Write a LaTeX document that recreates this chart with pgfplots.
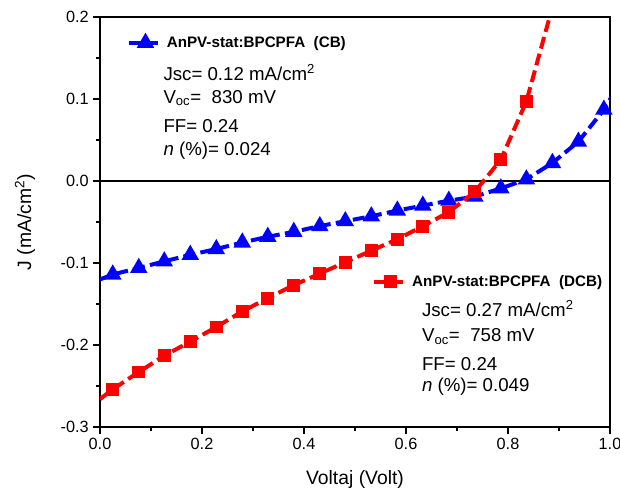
\documentclass[border=0pt]{standalone}
\usepackage{pgfplots}
\pgfplotsset{compat=1.18}
\usepackage{pgfplotstable}
\usepackage{fontspec}
\setmainfont{Liberation Sans}
\definecolor{cbblue}{RGB}{0,0,255}
\definecolor{dcbred}{RGB}{255,0,0}

\pgfplotstableread{
x y
0.000 -0.120
0.025 -0.114
0.076 -0.106
0.126 -0.098
0.177 -0.090
0.228 -0.083
0.279 -0.075
0.329 -0.068
0.380 -0.062
0.431 -0.055
0.481 -0.049
0.532 -0.043
0.583 -0.036
0.633 -0.030
0.684 -0.024
0.735 -0.019
0.786 -0.009
0.836 0.002
0.887 0.022
0.938 0.048
0.988 0.087
1.039 0.140
}\cbdata

\pgfplotstableread{
x y
0.000 -0.266
0.025 -0.254
0.076 -0.233
0.126 -0.213
0.177 -0.196
0.228 -0.178
0.279 -0.159
0.329 -0.143
0.380 -0.127
0.431 -0.113
0.481 -0.099
0.532 -0.085
0.583 -0.071
0.633 -0.055
0.684 -0.038
0.735 -0.013
0.786 0.026
0.836 0.097
0.887 0.212
}\dcbdata

\pgfplotsset{
  common/.style={
    scale only axis,
    width=382.5pt, height=307.5pt,
    xmin=0, xmax=1, ymin=-0.3, ymax=0.2,
    clip=true, clip mode=individual,
  },
  legend image code/.code={
    \draw[#1, mark indices={2}] plot coordinates {(0pt,0pt) (12.5pt,0pt) (25pt,0pt)};
  },
}

\begin{document}
\begin{tikzpicture}
\begin{axis}[
  common,
  axis line style={line width=0.9pt},
  xtick={0,0.2,0.4,0.6,0.8,1.0},
  ytick={-0.3,-0.2,-0.1,0,0.1,0.2},
  minor x tick num=1, minor y tick num=1,
  xtick pos=left, ytick pos=left,
  tick align=outside,
  major tick length=5pt, minor tick length=3pt,
  tick style={line width=0.8pt, black},
  /pgf/number format/.cd, fixed, fixed zerofill, precision=1, assume math mode=true,
  /pgfplots/.cd,
  tick label style={font=\fontsize{12.2}{14}\selectfont},
  xlabel={Voltaj (Volt)},
  ylabel={J (mA/cm\textsuperscript{2})},
  label style={font=\fontsize{14.5}{17}\selectfont},
  xlabel style={at={(axis description cs:0.5,-0.129)}, anchor=center},
  ylabel style={at={(axis description cs:-0.147,0.5)}, anchor=center},
  legend style={at={(0.052,0.937)}, anchor=west, draw=none, fill=none,
    inner sep=0pt, font=\fontsize{11.4}{13}\selectfont\bfseries},
  legend cell align=left,
]
\addplot[black, line width=0.8pt, forget plot] coordinates {(0,0) (1,0)};
\addplot[cbblue, line width=3pt, dash pattern=on 9pt off 4pt,
  mark=triangle*, mark size=4.6pt, mark options={solid},
  mark indices={2,3,4,5,6,7,8,9,10,11,12,13,14,15,16,17,18,19,20,21,22}]
  table[x=x,y=y]{\cbdata};
\addlegendentry{AnPV-stat:BPCPFA\ \ (CB)}

\node[anchor=base west, inner sep=0pt, font=\fontsize{14}{16}\selectfont] at (rel axis cs:0.124,0.846) {Jsc= 0.12 mA/cm\textsuperscript{2}};
\node[anchor=base west, inner sep=0pt, font=\fontsize{14}{16}\selectfont] at (rel axis cs:0.124,0.790) {V\textsubscript{oc}=\ \ 830 mV};
\node[anchor=base west, inner sep=0pt, font=\fontsize{14}{16}\selectfont] at (rel axis cs:0.124,0.719) {FF= 0.24};
\node[anchor=base west, inner sep=0pt, font=\fontsize{14}{16}\selectfont] at (rel axis cs:0.124,0.662) {\textit{n} (\%)= 0.024};

\node[anchor=base west, inner sep=0pt, font=\fontsize{14}{16}\selectfont] at (rel axis cs:0.631,0.269) {Jsc= 0.27 mA/cm\textsuperscript{2}};
\node[anchor=base west, inner sep=0pt, font=\fontsize{14}{16}\selectfont] at (rel axis cs:0.631,0.208) {V\textsubscript{oc}=\ \ 758 mV};
\node[anchor=base west, inner sep=0pt, font=\fontsize{14}{16}\selectfont] at (rel axis cs:0.631,0.139) {FF= 0.24};
\node[anchor=base west, inner sep=0pt, font=\fontsize{14}{16}\selectfont] at (rel axis cs:0.631,0.086) {\textit{n} (\%)= 0.049};
\end{axis}

\begin{axis}[
  common,
  hide axis,
  legend style={at={(0.533,0.354)}, anchor=west, draw=none, fill=none,
    inner sep=0pt, font=\fontsize{11.4}{13}\selectfont\bfseries},
  legend cell align=left,
]
\addplot[dcbred, line width=3pt, dash pattern=on 9pt off 4pt,
  mark=square*, mark size=3.3pt, mark options={solid},
  mark indices={2,3,4,5,6,7,8,9,10,11,12,13,14,15,16,17,18,19}]
  table[x=x,y=y]{\dcbdata};
\addlegendentry{AnPV-stat:BPCPFA\ \ (DCB)}
\end{axis}

\pgfresetboundingbox
\path[use as bounding box] (current axis.south west) ++(-75pt,-51.75pt) rectangle ([shift={(7.5pt,12.75pt)}]current axis.north east);
\end{tikzpicture}
\end{document}
